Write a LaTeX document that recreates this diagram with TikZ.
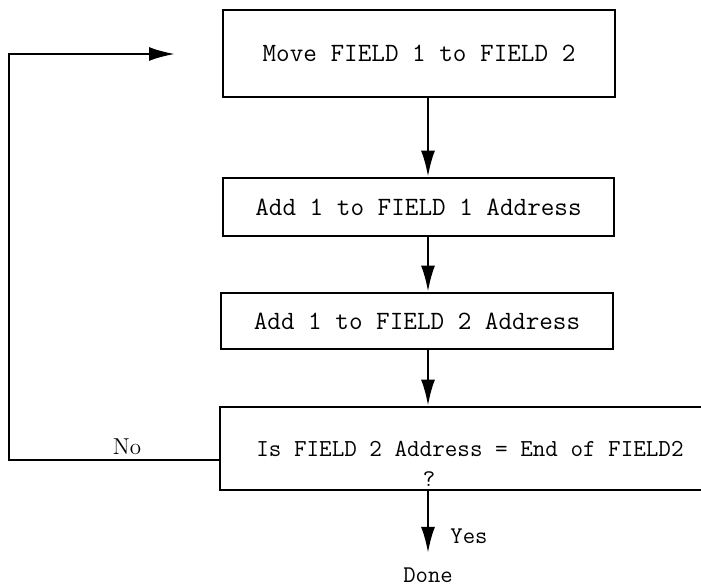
\documentclass[tikz,border=0pt]{standalone}
\usepackage{fontspec}
\usetikzlibrary{arrows.meta}

\begin{document}
\begin{tikzpicture}[x=0.5pt,y=-0.5pt]
                \useasboundingbox (0,0) rectangle (701,588);
                \begin{scope}[every node/.style={line width=1.3pt, draw, rectangle, inner sep=0pt, font=\fontsize{13.2}{15}\selectfont\ttfamily}]
                        \node[minimum width=196pt, minimum height=43.5pt] (Move) at (419,53.5) {Move FIELD 1 to FIELD 2};
                        \node[minimum width=195.5pt, minimum height=29pt] (AddA) at (418.5,207) {Add 1 to FIELD 1 Address};
                        \node[minimum width=196pt, minimum height=28pt] (AddB) at (417,321) {Add 1 to FIELD 2 Address};
                        \node[minimum width=250pt, minimum height=41.5pt, font=\fontsize{12.2}{14}\selectfont\ttfamily] (Test) at (470,448.5) {Is FIELD 2 Address = End of FIELD2};
                \end{scope}
                \begin{scope}[every node/.style={inner sep=1pt, font=\fontsize{12}{14}\selectfont\ttfamily}]
                        \node (Ask) at (429,479) {?};
                        \node (Yes) at (469,536) {Yes};
                        \node[anchor=base] (Done) at (428,582) {Done};
                        \node[font=\fontsize{11.5}{13}\selectfont\rmfamily] (No) at (127,447) {No};
                \end{scope}
                \coordinate (Corner) at (9,460);
                \coordinate (Back) at (175,54);
                \begin{scope}[every path/.style={line width=1.2pt, -{Latex[length=13pt,width=7pt]}}]
                        \path (Move.south -| Done) edge (AddA.north -| Done);
                        \path (AddA.south -| Done) edge (AddB.north -| Done);
                        \path (AddB.south -| Done) edge (Test.north -| Done);
                        \path (Test.south -| Done) edge[shorten >=6pt] (Done);
                        \draw (Test.west |- Corner) -- (Corner) |- (Back);
                \end{scope}
        \end{tikzpicture}
\end{document}
